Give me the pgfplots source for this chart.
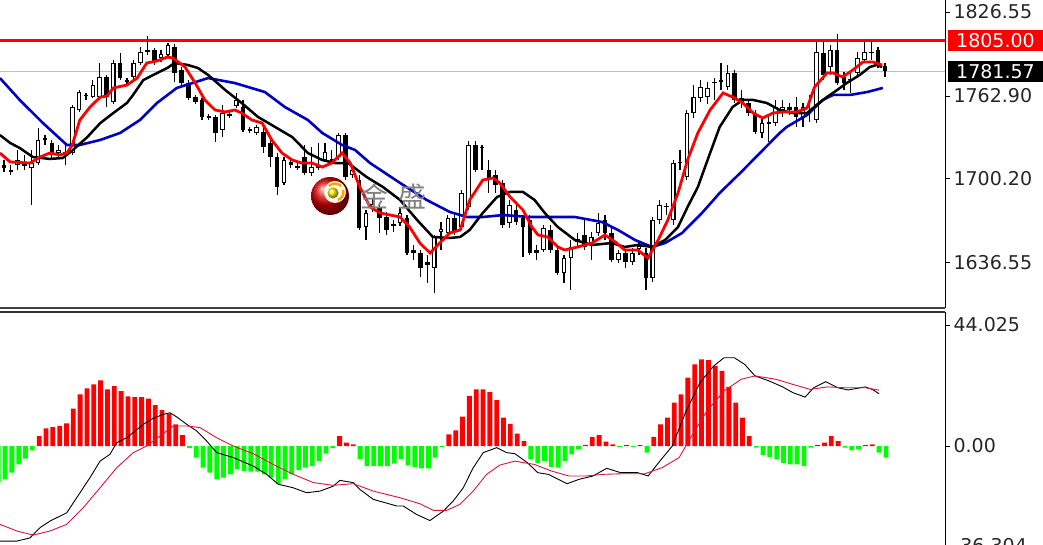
\documentclass[border=0pt]{standalone}
\usepackage{fontspec}
\setmainfont{DejaVu Sans}
\newfontfamily\cjk{Noto Sans CJK SC}
\usepackage{pgfplots}
\usepackage{pgfplotstable}
\pgfplotsset{compat=1.18}
\definecolor{macdred}{HTML}{FF0000}
\definecolor{macdgreen}{HTML}{00FF00}
\definecolor{sigcol}{HTML}{DC143C}
\definecolor{mablue}{HTML}{0000C0}
\definecolor{lvlgray}{HTML}{C0C0C0}

\pgfplotstableread{
i o h l c
0 1710.6 1714.4 1705.3 1708.3
1 1706.8 1710.6 1703.0 1705.3
2 1710.6 1722.0 1706.8 1714.4
3 1712.1 1718.2 1706.8 1709.9
4 1708.3 1722.0 1680.3 1712.1
5 1712.1 1738.7 1710.6 1729.6
6 1729.6 1733.3 1725.8 1731.1
7 1727.3 1729.6 1715.9 1718.2
8 1719.7 1725.8 1715.9 1722.0
9 1718.2 1725.8 1710.6 1720.5
10 1719.7 1756.1 1718.2 1754.6
11 1752.3 1767.4 1750.8 1765.9
12 1763.7 1765.2 1759.9 1763.5
13 1762.1 1775.0 1761.4 1771.2
14 1762.1 1787.9 1759.9 1777.3
15 1777.3 1778.8 1754.6 1762.1
16 1758.4 1790.2 1756.8 1787.9
17 1787.9 1795.5 1775.0 1776.5
18 1773.5 1776.5 1771.2 1775.0
19 1777.3 1790.2 1775.0 1787.9
20 1787.9 1800.0 1786.4 1796.2
21 1796.2 1808.4 1794.0 1797.8
22 1797.8 1799.3 1786.4 1788.7
23 1791.7 1797.8 1788.7 1794.7
24 1794.0 1803.0 1792.4 1801.5
25 1800.0 1802.3 1773.5 1780.3
26 1782.6 1784.9 1770.5 1772.7
27 1772.7 1775.0 1759.9 1761.4
28 1762.1 1763.7 1756.8 1758.4
29 1759.9 1761.4 1744.7 1747.0
30 1747.7 1749.3 1744.7 1746.2
31 1747.0 1748.5 1728.0 1734.9
32 1737.1 1756.1 1731.8 1750.0
33 1747.7 1752.3 1746.2 1749.3
34 1755.3 1765.2 1753.8 1759.9
35 1754.6 1759.9 1735.6 1737.1
36 1737.9 1739.4 1734.9 1736.4
37 1734.9 1740.9 1733.3 1739.4
38 1735.6 1738.7 1719.7 1724.3
39 1727.3 1729.6 1709.1 1716.7
40 1716.7 1719.7 1687.9 1693.9
41 1697.0 1716.7 1695.5 1714.4
42 1712.9 1715.9 1708.3 1710.6
43 1709.9 1712.9 1706.8 1708.3
44 1716.7 1725.8 1703.0 1704.5
45 1704.5 1724.3 1702.3 1709.1
46 1708.3 1727.3 1706.8 1709.9
47 1714.4 1727.3 1712.9 1720.5
48 1713.6 1722.0 1712.1 1715.2
49 1716.7 1734.9 1714.4 1733.3
50 1733.3 1734.9 1699.2 1701.5
51 1703.0 1710.6 1700.8 1706.8
52 1699.2 1703.0 1661.4 1662.9
53 1663.6 1676.5 1653.8 1674.2
54 1678.8 1685.6 1675.0 1681.1
55 1678.0 1680.3 1659.1 1670.5
56 1671.2 1675.0 1657.6 1661.4
57 1665.9 1668.9 1659.8 1664.4
58 1666.7 1678.8 1664.4 1674.2
59 1670.5 1672.7 1642.4 1643.9
60 1646.2 1650.0 1638.6 1643.9
61 1643.9 1646.2 1625.8 1632.6
62 1637.1 1642.4 1621.2 1634.9
63 1632.6 1657.6 1613.6 1656.1
64 1659.8 1667.4 1646.2 1662.1
65 1659.1 1672.7 1655.3 1670.5
66 1670.5 1675.0 1657.6 1659.8
67 1663.6 1691.7 1661.4 1689.4
68 1678.8 1728.8 1676.5 1725.8
69 1725.8 1728.8 1705.3 1706.8
70 1724.3 1725.8 1706.8 1723.5
71 1706.8 1714.4 1689.4 1700.8
72 1703.0 1706.8 1689.4 1695.5
73 1697.0 1699.2 1662.9 1665.2
74 1666.7 1684.1 1662.9 1680.3
75 1676.5 1680.3 1665.2 1667.4
76 1670.5 1672.7 1640.9 1663.6
77 1668.9 1672.7 1642.4 1643.9
78 1646.2 1650.0 1638.6 1643.9
79 1646.2 1665.2 1644.7 1662.9
80 1661.4 1665.2 1643.9 1646.2
81 1646.2 1650.0 1627.3 1628.8
82 1628.8 1642.4 1621.2 1640.1
83 1640.1 1653.8 1615.9 1648.5
84 1652.3 1659.1 1647.7 1654.5
85 1657.6 1668.9 1646.2 1648.5
86 1651.5 1659.8 1638.6 1656.1
87 1659.1 1674.2 1656.8 1666.7
88 1668.9 1672.7 1653.8 1659.1
89 1659.1 1662.9 1637.1 1638.6
90 1638.6 1646.2 1636.4 1643.9
91 1643.9 1646.2 1632.6 1637.1
92 1637.1 1647.7 1634.9 1643.9
93 1647.0 1652.3 1642.4 1649.2
94 1643.9 1647.7 1615.9 1625.0
95 1625.0 1671.2 1622.0 1668.9
96 1668.9 1684.1 1665.9 1680.3
97 1678.8 1681.8 1672.7 1679.5
98 1668.9 1714.4 1665.2 1712.1
99 1712.1 1722.0 1706.8 1712.9
100 1701.5 1752.3 1699.2 1750.0
101 1750.0 1771.2 1746.2 1762.1
102 1761.4 1775.0 1758.4 1769.7
103 1762.1 1773.5 1756.8 1769.0
104 1772.7 1776.5 1759.9 1773.5
105 1773.5 1787.9 1767.4 1775.0
106 1769.7 1786.4 1767.4 1780.3
107 1780.3 1782.6 1757.6 1759.9
108 1761.4 1767.4 1753.8 1758.4
109 1757.6 1759.9 1747.7 1750.0
110 1750.0 1752.3 1734.1 1735.6
111 1734.9 1746.2 1731.1 1742.4
112 1741.7 1748.5 1728.0 1743.2
113 1742.4 1759.9 1740.2 1754.6
114 1752.3 1759.9 1747.0 1754.6
115 1754.6 1757.6 1748.5 1752.3
116 1754.6 1762.1 1739.4 1747.0
117 1747.0 1757.6 1739.4 1754.6
118 1752.3 1763.7 1743.2 1750.8
119 1744.7 1803.8 1742.4 1796.2
120 1795.5 1803.8 1775.0 1778.8
121 1784.9 1801.5 1778.8 1797.8
122 1797.8 1809.9 1771.2 1772.7
123 1777.3 1781.1 1767.4 1772.7
124 1775.0 1781.1 1765.2 1775.8
125 1780.3 1796.2 1776.5 1791.7
126 1790.2 1803.8 1787.9 1796.2
127 1796.2 1803.8 1790.2 1795.5
128 1797.8 1800.0 1784.1 1786.4
129 1785.6 1787.9 1777.3 1781.57
}\candles

\begin{document}
\begin{tikzpicture}[x=1pt,y=1pt]

% ---------------- price panel ----------------
\begin{axis}[at={(0pt,237pt)}, anchor=south west, scale only axis,
  width=945pt, height=308pt,
  xmin=-0.59, xmax=137.8, ymin=1602.27, ymax=1835.64,
  axis x line*=bottom, axis y line*=right,
  x axis line style={line width=1.6pt, black!75},
  y axis line style={line width=1pt, black},
  xtick=\empty,
  ytick={1636.55,1700.20,1762.90,1826.55},
  yticklabels={1636.55,1700.20,1762.90,1826.55},
  tick style={black, line width=0.8pt}, major tick length=5pt, tick align=outside,
  yticklabel style={font=\fontsize{19}{19}\selectfont, text=black!85},
  clip mode=individual]

\addplot[lvlgray, line width=1pt] coordinates {(-0.59,1781.57) (137.8,1781.57)};
\addplot[red, line width=2.2pt] coordinates {(-0.59,1805) (137.8,1805)};

% wicks
\addplot[draw=none, mark=none, error bars/.cd, y dir=minus, y explicit, error mark=none,
  error bar style={draw=black, line width=1.2pt}]
  table[x=i, y=h, y error minus expr={\thisrow{h}-\thisrow{l}}] {\candles};
% bodies (black outline / fill)
\addplot[draw=none, mark=none, error bars/.cd, y dir=minus, y explicit, error mark=none,
  error bar style={draw=black, line width=4.6pt, line cap=butt}]
  table[x=i, y expr={max(\thisrow{o},\thisrow{c})},
        y error minus expr={max(abs(\thisrow{o}-\thisrow{c}),1.0)}] {\candles};
% hollow interior of rising candles
\addplot[draw=none, mark=none, error bars/.cd, y dir=minus, y explicit, error mark=none,
  error bar style={draw=white, line width=2.4pt, line cap=butt}]
  table[x=i, y expr={(\thisrow{c}-\thisrow{o}>2) ? (\thisrow{c}-0.8) : (1620)},
        y error minus expr={(\thisrow{c}-\thisrow{o}>2) ? (\thisrow{c}-\thisrow{o}-1.6) : (0)}] {\candles};

% slow MA (blue)
\addplot[mablue, line width=2.6pt] coordinates {
(-0.6,1776.5)(2.3,1759.9)(5.7,1742.4)(9.2,1725.8)(11.1,1725.8)(14.1,1729.6)(17.0,1734.9)(19.9,1744.7)(22.4,1757.6)(25.3,1769.0)(29.9,1776.5)(33.8,1772.7)(38.2,1765.9)(41.1,1754.6)(44.5,1744.7)(46.6,1734.9)(49.5,1725.8)(51.4,1722.0)(53.6,1712.1)(58.0,1697.0)(61.9,1684.1)(65.3,1675.0)(67.8,1671.2)(70.1,1671.2)(73.1,1672.7)(77.0,1671.2)(83.6,1671.2)(87.6,1667.4)(89.9,1661.4)(92.4,1653.8)(94.9,1648.5)(96.8,1651.5)(99.3,1659.1)(102.2,1674.2)(104.8,1689.4)(107.8,1704.5)(110.7,1719.7)(113.6,1734.9)(114.6,1739.4)(117.6,1748.5)(119.9,1759.9)(121.4,1763.7)(123.9,1763.7)(126.4,1765.9)(128.7,1769.0)};
% medium MA (black)
\addplot[black, line width=2.5pt] coordinates {
(-0.6,1733.3)(0.9,1727.3)(2.3,1723.5)(4.2,1716.7)(6.7,1715.2)(8.6,1715.9)(10.1,1722.0)(12.2,1731.8)(14.1,1742.4)(16.0,1750.0)(18.0,1757.6)(18.9,1763.7)(20.4,1775.0)(22.4,1780.3)(23.9,1784.1)(25.0,1787.9)(26.9,1786.4)(28.4,1784.1)(29.9,1778.8)(32.4,1767.4)(34.8,1757.6)(37.2,1747.0)(39.7,1739.4)(42.2,1731.8)(44.5,1719.7)(46.6,1714.4)(48.5,1712.1)(50.4,1712.1)(53.1,1701.5)(55.5,1693.9)(58.0,1684.1)(60.5,1668.9)(62.8,1656.1)(65.3,1655.3)(66.8,1656.1)(68.2,1661.4)(70.1,1674.2)(72.2,1686.4)(74.1,1690.2)(76.0,1690.2)(77.7,1684.1)(79.2,1674.2)(81.1,1663.6)(83.6,1653.8)(86.1,1650.0)(89.0,1651.5)(90.9,1648.5)(92.8,1650.0)(94.9,1648.5)(96.8,1653.8)(98.7,1663.6)(100.1,1678.8)(101.6,1693.9)(103.4,1719.7)(104.8,1739.4)(106.7,1754.6)(108.2,1759.9)(109.7,1759.9)(111.7,1757.6)(113.6,1752.3)(115.5,1750.0)(117.6,1750.0)(119.0,1756.1)(120.5,1762.1)(122.0,1767.4)(123.4,1772.7)(125.3,1778.8)(126.8,1784.9)(127.8,1786.4)(128.6,1784.9)};
% fast MA (red)
\addplot[red, line width=2.8pt] coordinates {
(-0.6,1719.7)(0.9,1712.9)(3.8,1712.1)(5.3,1716.7)(6.7,1719.7)(8.2,1718.2)(9.2,1719.7)(10.0,1725.8)(11.1,1744.7)(12.6,1754.6)(14.1,1762.1)(15.1,1762.9)(16.0,1769.0)(18.0,1771.2)(19.5,1776.5)(20.9,1787.9)(22.4,1789.4)(23.9,1792.4)(24.7,1791.7)(26.5,1784.9)(28.0,1772.7)(29.4,1759.9)(30.9,1752.3)(32.4,1750.8)(33.8,1752.3)(34.8,1750.0)(36.3,1744.7)(37.8,1742.4)(39.2,1729.6)(40.7,1719.7)(42.2,1714.4)(43.6,1712.1)(45.1,1712.1)(46.6,1709.1)(48.0,1712.1)(49.5,1719.7)(50.7,1712.1)(52.1,1693.9)(53.6,1678.8)(55.1,1674.2)(58.0,1671.2)(59.4,1663.6)(60.9,1651.5)(62.4,1643.9)(63.8,1651.5)(65.3,1659.1)(66.8,1661.4)(68.2,1684.1)(70.1,1699.2)(71.6,1700.8)(72.6,1697.0)(74.1,1686.4)(76.0,1676.5)(77.3,1663.6)(78.2,1657.6)(79.6,1656.1)(81.1,1648.5)(82.1,1646.2)(84.0,1648.5)(86.1,1651.5)(88.0,1657.6)(89.5,1652.3)(90.9,1646.2)(92.8,1646.2)(94.3,1640.1)(95.8,1653.8)(97.2,1668.9)(98.7,1689.4)(100.1,1714.4)(101.6,1734.9)(103.4,1752.3)(105.3,1765.2)(106.7,1762.1)(108.2,1757.6)(109.7,1750.0)(111.1,1746.2)(112.6,1750.0)(114.1,1750.8)(116.1,1750.8)(117.6,1753.8)(118.7,1769.7)(120.5,1780.3)(121.4,1780.3)(122.8,1777.3)(124.3,1782.6)(125.8,1788.7)(127.2,1788.7)(128.6,1786.4)};

\node[fill=red, text=white, font=\fontsize{19}{19}\selectfont, anchor=west,
  inner xsep=8pt, inner ysep=0pt, minimum height=21pt, xshift=3pt] at (axis cs:137.8,1805) {1805.00};
\node[fill=black, text=white, font=\fontsize{19}{19}\selectfont, anchor=west,
  inner xsep=8pt, inner ysep=0pt, minimum height=21pt, xshift=3pt] at (axis cs:137.8,1781.57) {1781.57};
\end{axis}

% ---------------- MACD panel ----------------
\begin{axis}[at={(0pt,-11pt)}, anchor=south west, scale only axis,
  width=945pt, height=244pt,
  xmin=-0.59, xmax=137.8, ymin=-40, ymax=48.75,
  axis x line*=top, axis y line*=right,
  x axis line style={line width=1.2pt, black!80},
  y axis line style={line width=1pt, black},
  xtick=\empty,
  ytick={-36.304,0,44.025},
  yticklabels={-36.304,0.00,44.025},
  tick style={black, line width=0.8pt}, major tick length=5pt, tick align=outside,
  yticklabel style={font=\fontsize{19}{19}\selectfont, text=black!85}]

\addplot[ybar, bar width=4.8pt, bar shift=1pt, fill=macdred, draw=none] coordinates {
(5,3.6)(6,6.4)(7,6.9)(8,7.3)(9,8.2)(10,13.6)(11,18.8)(12,21.0)(13,22.4)(14,23.9)(15,20.6)(16,21.8)(17,20.0)(18,18.1)(19,17.8)(20,17.8)(21,17.2)(22,14.9)(23,13.1)(24,11.8)(25,7.9)(26,4.0)
(49,3.6)(50,1.2)(51,0.6)
(65,4.2)(66,5.7)(67,10.7)(68,18.2)(69,20.6)(70,20.6)(71,19.6)(72,16.7)(73,10.3)(74,8.1)(75,4.5)(76,1.8)
(85,0.4)(86,3.3)(87,4.0)(88,1.6)(89,0.6)(91,0.3)(93,0.3)
(95,3.3)(96,7.9)(97,10.3)(98,15.8)(99,18.8)(100,24.9)(101,29.7)(102,31.5)(103,31.2)(104,29.1)(105,27.3)(106,21.5)(107,15.8)(108,10.3)(109,3.6)
(119,0.3)(120,1.2)(121,3.6)(122,1.8)(126,0.3)(127,0.6)};
\addplot[ybar, bar width=4.8pt, bar shift=1pt, fill=macdgreen, draw=none] coordinates {
(-1,-13.3)(0,-12.1)(1,-9.7)(2,-6.7)(3,-4.6)(4,-1.6)
(27,-0.8)(28,-4.2)(29,-7.9)(30,-9.7)(31,-12.1)(32,-11.5)(33,-10.3)(34,-8.5)(35,-9.1)(36,-9.3)(37,-9.3)(38,-10.3)(39,-11.5)(40,-13.9)(41,-12.1)(42,-10.3)(43,-8.8)(44,-7.9)(45,-7.3)(46,-5.5)(47,-2.8)(48,-0.8)
(52,-4.8)(53,-7.3)(54,-7.3)(55,-7.3)(56,-7.3)(57,-6.4)(58,-4.8)(59,-7.0)(60,-7.6)(61,-8.1)(62,-8.1)(63,-4.2)(64,-0.4)
(77,-4.9)(78,-6.1)(79,-5.5)(80,-7.6)(81,-7.9)(82,-5.5)(83,-3.0)(84,-1.2)
(90,-0.3)(92,-0.3)(94,-2.4)
(110,-0.6)(111,-3.3)(112,-4.0)(113,-4.9)(114,-6.1)(115,-6.7)(116,-6.7)(117,-7.3)(118,-0.6)
(123,-0.6)(124,-1.6)(125,-1.2)(128,-2.4)(129,-4.2)};

\addplot[black, line width=0.9pt] coordinates {
(-0.59,-34.6)(1.86,-34.6)(3.81,-33.4)(5.27,-29.7)(6.73,-27.3)(9.18,-24.3)(10.64,-18.8)(12.59,-11.5)(14.06,-5.5)(15.52,-3.0)(16.50,1.2)(17.96,3.0)(18.93,4.9)(20.40,7.9)(21.86,10.1)(23.32,11.5)(24.30,12.1)(25.29,10.6)(26.75,7.9)(28.21,5.5)(29.68,1.8)(31.14,-2.4)(33.57,-4.2)(36.50,-7.3)(38.46,-10.3)(40.16,-13.9)(42.36,-15.2)(44.32,-17.0)(46.27,-16.4)(48.21,-14.6)(49.19,-12.5)(51.14,-13.3)(52.12,-15.8)(54.07,-19.4)(57.50,-21.8)(58.46,-21.8)(60.42,-24.9)(62.37,-27.1)(64.32,-23.7)(65.78,-20.0)(67.25,-15.2)(68.71,-7.9)(70.18,-2.4)(72.14,-0.6)(73.60,-2.4)(74.82,-2.8)(76.66,-6.1)(78.17,-9.7)(79.69,-10.3)(82.46,-13.7)(84.23,-12.1)(86.25,-10.9)(88.27,-8.1)(90.29,-9.7)(92.81,-9.7)(94.33,-10.9)(95.84,-6.1)(97.86,0)(99.88,12.7)(101.90,23.0)(103.92,29.1)(105.43,32.1)(106.95,32.1)(108.46,29.7)(109.98,25.5)(112.01,23.7)(114.03,21.5)(115.53,19.4)(117.31,17.8)(118.57,21.2)(120.34,23.4)(122.09,21.2)(123.62,20.4)(126.14,21.5)(127.14,20.6)(128.16,19.0)};
\addplot[sigcol, line width=0.9pt] coordinates {
(-0.59,-28.5)(1.86,-30.9)(4.29,-32.4)(6.73,-30.9)(9.18,-28.5)(11.61,-22.4)(14.06,-15.2)(16.50,-7.9)(18.93,-2.4)(20.89,0)(22.84,3.6)(24.79,7.3)(26.75,7.3)(28.70,6.7)(31.14,3.0)(33.57,0)(36.50,-2.8)(39.43,-6.7)(42.36,-10.3)(45.29,-13.3)(48.21,-14.3)(51.14,-13.7)(54.07,-16.4)(57.98,-18.8)(60.91,-21.0)(62.86,-23.4)(64.82,-23.4)(66.76,-21.2)(68.71,-16.4)(70.67,-10.3)(72.62,-6.9)(74.82,-5.5)(77.67,-6.7)(80.19,-9.1)(82.72,-10.9)(85.24,-10.9)(87.76,-10.3)(90.29,-10.1)(93.82,-10.1)(96.35,-7.9)(98.87,-4.2)(100.40,2.4)(102.91,12.7)(105.43,20.0)(107.96,24.3)(109.98,25.5)(113.01,24.3)(115.53,22.4)(118.05,20.6)(120.59,21.5)(123.10,21.2)(126.14,21.2)(128.16,20.3)};
\end{axis}

% ---------------- watermark ----------------
\shade[ball color=red!85!black] (330,349) circle (19);
\fill[white!90!yellow] (335,353) circle (11);
\draw[orange!75!yellow, line width=2.4pt] (335,353) ++(45:8.5) arc (45:135:8.5);
\draw[orange!75!yellow, line width=2.4pt] (335,353) ++(-70:8.5) arc (-70:15:8.5);
\shade[ball color=yellow!80!orange] (333,352) circle (5.5);
\node[text=gray!60!black!70, font=\cjk\fontsize{28}{28}\selectfont] at (393,349) {金\hspace{10pt}盛};

\pgfresetboundingbox
\useasboundingbox (0pt,0pt) rectangle (1043pt,545pt);
\end{tikzpicture}
\end{document}
